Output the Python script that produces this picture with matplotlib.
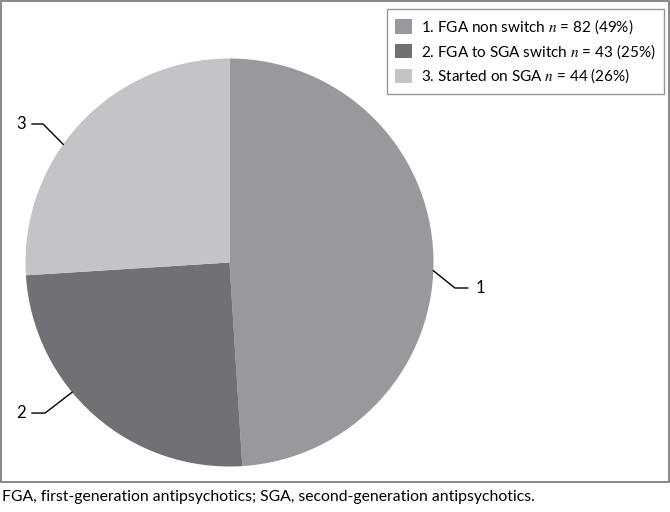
import numpy as np
import matplotlib.pyplot as plt
from matplotlib.patches import Rectangle

plt.rcParams['font.family'] = ['Lato', 'DejaVu Sans']
plt.rcParams['mathtext.fontset'] = 'stix'

# data
groups = ['1. FGA non switch', '2. FGA to SGA switch', '3. Started on SGA']
counts = [82, 43, 44]
pcts = [49, 25, 26]
short = ['1', '2', '3']
colors = ['#98999d', '#707174', '#c3c4c8']

# leader-line layout: angle on the rim (deg), elbow and end points (data units)
leader_ang = [-2.3, -140.5, 144.6]
elbow = [(1.105, -0.125), (-0.904, -0.738), (-0.914, 0.679)]
lend = [(1.168, -0.125), (-0.968, -0.738), (-0.968, 0.679)]

W, H = 670, 512
fig = plt.figure(figsize=(W / 100, H / 100), dpi=100)

# frame around chart area
fig.patches.append(Rectangle((1 / W, 30 / H), 668 / W, 481 / H,
                             transform=fig.transFigure, fill=False,
                             edgecolor='#7f7f7f', linewidth=1.3))

cx, cy, r = 229.5, 262.5, 204
ax = fig.add_axes([(cx - r) / W, (H - cy - r) / H, 2 * r / W, 2 * r / H])
# slices drawn from the rounded percentages, as in the original
wedges, _ = ax.pie(pcts, colors=colors, startangle=90, counterclock=False,
                   radius=1, wedgeprops=dict(linewidth=0))
ax.set_xlim(-1, 1)
ax.set_ylim(-1, 1)
ax.set_aspect('equal')
ax.axis('off')

for i in range(3):
    a = np.deg2rad(leader_ang[i])
    x0, y0 = np.cos(a), np.sin(a)
    ax.plot([x0, elbow[i][0], lend[i][0]], [y0, elbow[i][1], lend[i][1]],
            color='black', lw=1.0, clip_on=False)
    if lend[i][0] > 0:
        ax.text(lend[i][0] + 0.04, lend[i][1], short[i], ha='left', va='center',
                fontsize=12, clip_on=False)
    else:
        ax.text(lend[i][0] - 0.03, lend[i][1], short[i], ha='right', va='center',
                fontsize=12, clip_on=False)

labels = [f'{g} $n$ = {c} ({p}%)' for g, c, p in zip(groups, counts, pcts)]
leg = fig.legend(wedges, labels, loc='upper right',
                 bbox_to_anchor=(664 / W, 1 - 9 / H), fontsize=11,
                 frameon=True, fancybox=False, edgecolor='#7f7f7f',
                 handlelength=1.1, handleheight=1.05, handletextpad=0.6,
                 labelspacing=0.4, borderpad=0.55, borderaxespad=0)
leg.get_frame().set_linewidth(1.0)

fig.text(2 / W, 1 - 497 / H,
         'FGA, first-generation antipsychotics; SGA, second-generation antipsychotics.',
         ha='left', va='center', fontsize=11.3)

fig.savefig('out.png', dpi=100)
